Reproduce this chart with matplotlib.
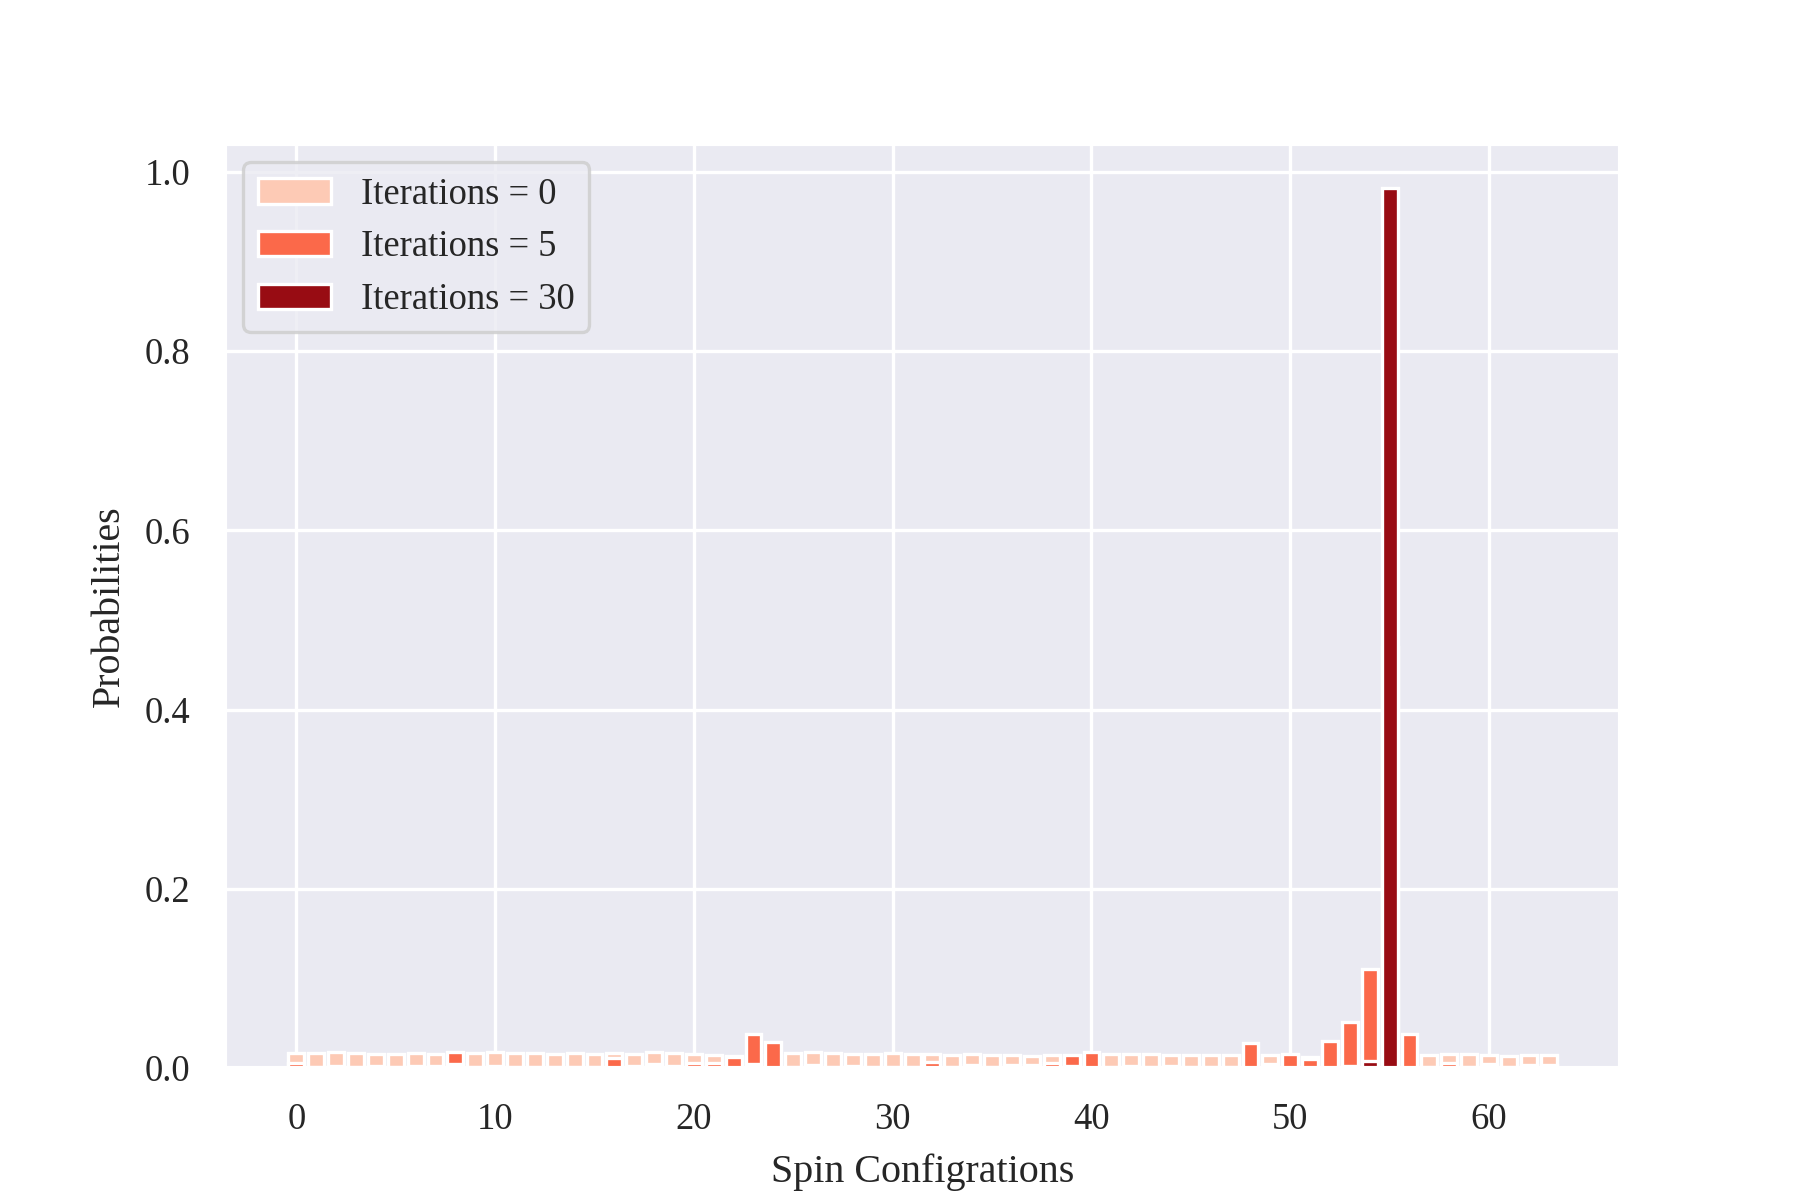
#!/usr/bin/env python3
"""
Plot the probability of each spin configuration after 0, 5 and 30 optimisation
iterations as overlaid bar charts.
"""

import matplotlib
matplotlib.use("Agg")
import matplotlib.pyplot as plt
import numpy as np
import seaborn as sns

# 64 spin configurations (6 spins)
configs = np.arange(64)

probs_iter0 = [
    0.0164, 0.0164, 0.0175, 0.0164, 0.0153, 0.0153, 0.0164, 0.0153,
    0.0150, 0.0164, 0.0175, 0.0164, 0.0164, 0.0153, 0.0164, 0.0153,
    0.0164, 0.0153, 0.0175, 0.0164, 0.0153, 0.0142, 0.0135, 0.0150,
    0.0150, 0.0164, 0.0175, 0.0164, 0.0153, 0.0153, 0.0164, 0.0153,
    0.0153, 0.0142, 0.0153, 0.0142, 0.0142, 0.0131, 0.0142, 0.0135,
    0.0150, 0.0153, 0.0153, 0.0153, 0.0142, 0.0142, 0.0142, 0.0142,
    0.0140, 0.0142, 0.0140, 0.0120, 0.0140, 0.0140, 0.0140, 0.0140,
    0.0140, 0.0142, 0.0153, 0.0153, 0.0142, 0.0131, 0.0142, 0.0142,
]

probs_iter5 = [
    0.0051, 0.0010, 0.0018, 0.0010, 0.0018, 0.0010, 0.0018, 0.0018,
    0.0175, 0.0010, 0.0018, 0.0010, 0.0010, 0.0010, 0.0010, 0.0010,
    0.0108, 0.0018, 0.0040, 0.0018, 0.0060, 0.0060, 0.0119, 0.0376,
    0.0287, 0.0010, 0.0029, 0.0010, 0.0018, 0.0010, 0.0010, 0.0010,
    0.0067, 0.0010, 0.0029, 0.0010, 0.0029, 0.0029, 0.0051, 0.0142,
    0.0175, 0.0010, 0.0018, 0.0010, 0.0018, 0.0010, 0.0010, 0.0010,
    0.0276, 0.0040, 0.0153, 0.0097, 0.0298, 0.0510, 0.1110, 0.4700,
    0.0376, 0.0010, 0.0051, 0.0010, 0.0040, 0.0010, 0.0029, 0.0029,
]

probs_iter30 = [0.0002] * 64
probs_iter30[8] = 0.004
probs_iter30[23] = 0.004
probs_iter30[39] = 0.0018
probs_iter30[53] = 0.0018
probs_iter30[54] = 0.0075
probs_iter30[55] = 0.982

iterations = [0, 5, 30]


def plot_probabilities(output_file="out.png"):
    sns.set_theme(context="paper", style="darkgrid")
    plt.rcParams["font.family"] = ["Liberation Serif", "DejaVu Serif"]

    reds = plt.get_cmap("Reds")
    colors = [reds(0.2), reds(0.5), reds(0.9)]

    fig, ax = plt.subplots(figsize=(6, 4), dpi=300)

    for it, probs, color in zip(iterations, [probs_iter0, probs_iter5, probs_iter30], colors):
        ax.bar(configs, probs, color=color, label=f"Iterations = {it}")

    ax.set_xlabel("Spin Configrations")
    ax.set_ylabel("Probabilities")
    ax.legend(loc="upper left")

    fig.savefig(output_file, dpi=300)


if __name__ == "__main__":
    plot_probabilities()
